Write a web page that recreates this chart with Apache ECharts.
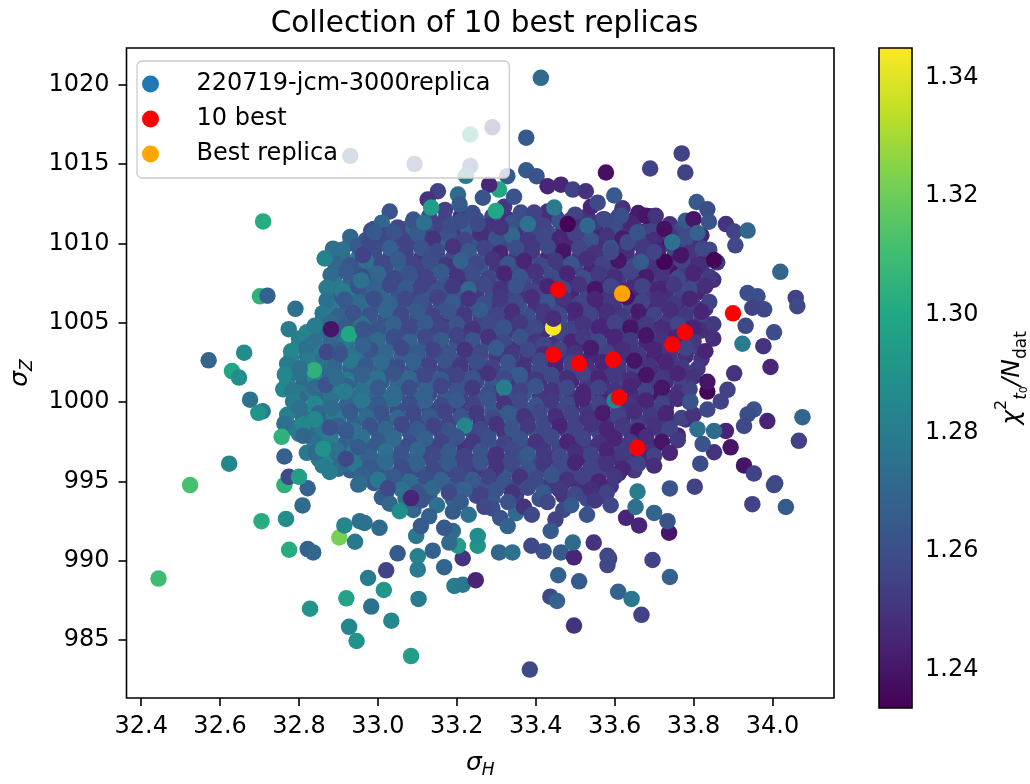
<!DOCTYPE html>
<html><head><meta charset="utf-8">
<script src="https://cdn.jsdelivr.net/npm/echarts@6.0.0/dist/echarts.min.js"></script>
<style>html,body{margin:0;padding:0;background:#fff}#c{width:1030px;height:784px}</style>
</head><body><div id="c"></div>
<script>
const chartTitle = 'Collection of 10 best replicas';
const seriesNames = ['220719-jcm-3000replica', '10 best', 'Best replica'];
const xTicks = [32.4, 32.6, 32.8, 33.0, 33.2, 33.4, 33.6, 33.8, 34.0];
const yTicks = [985, 990, 995, 1000, 1005, 1010, 1015, 1020];
const cbTicks = [1.24, 1.26, 1.28, 1.30, 1.32, 1.34];
const xRange = [32.3628, 34.156];
const yRange = [981.36, 1022.30];
const chi2Range = [1.2335, 1.345];

// [sigma_H, sigma_Z, chi2/Ndat] — dense core, lower layer
const replicasUnder = [
[33.09,1011.5,1.27],[33.13,1011.7,1.256],[33.17,1011.5,1.262],[33.21,1011.7,1.25],[33.25,1011.5,1.265],[33.29,1011.7,1.258],[33.33,1011.5,1.248],[33.37,1011.7,1.262],[33.41,1011.5,1.255],[33.45,1011.7,1.245],[33.49,1011.5,1.258],[33.53,1011.7,1.25],[33.57,1011.5,1.242],[33.61,1011.7,1.255],[33.65,1011.5,1.25],[33.69,1011.7,1.245],
[32.99,1010.9,1.262],[33.03,1010.7,1.258],[33.07,1010.9,1.27],[33.11,1010.7,1.255],[33.15,1010.9,1.262],[33.19,1010.7,1.252],[33.23,1010.9,1.268],[33.27,1010.7,1.256],[33.31,1010.9,1.262],[33.35,1010.7,1.25],[33.39,1010.9,1.258],[33.43,1010.7,1.262],[33.47,1010.9,1.248],[33.51,1010.7,1.255],[33.55,1010.9,1.245],[33.59,1010.7,1.258],[33.63,1010.9,1.25],[33.67,1010.7,1.24],[33.71,1010.9,1.255],[33.75,1010.7,1.248],[33.79,1010.9,1.252],
[32.93,1010.0,1.272],[32.97,1009.9,1.265],[33.01,1010.1,1.26],[33.05,1009.9,1.268],[33.09,1010.1,1.256],[33.13,1009.9,1.262],[33.17,1010.1,1.27],[33.21,1009.9,1.255],[33.25,1010.1,1.262],[33.29,1009.9,1.25],[33.33,1010.1,1.258],[33.37,1009.9,1.265],[33.41,1010.1,1.252],[33.45,1009.9,1.258],[33.49,1010.1,1.245],[33.53,1009.9,1.255],[33.57,1010.1,1.248],[33.61,1009.9,1.258],[33.65,1010.1,1.245],[33.69,1009.9,1.252],[33.73,1010.1,1.24],[33.77,1009.9,1.255],[33.81,1010.1,1.248],
[32.91,1009.2,1.27],[32.95,1009.1,1.278],[32.99,1009.3,1.262],[33.03,1009.1,1.258],[33.07,1009.3,1.265],[33.11,1009.1,1.252],[33.15,1009.3,1.262],[33.19,1009.1,1.258],[33.23,1009.3,1.25],[33.27,1009.1,1.265],[33.31,1009.3,1.256],[33.35,1009.1,1.25],[33.39,1009.3,1.262],[33.43,1009.1,1.248],[33.47,1009.3,1.256],[33.51,1009.1,1.25],[33.55,1009.3,1.258],[33.59,1009.1,1.245],[33.63,1009.3,1.252],[33.67,1009.1,1.248],[33.71,1009.3,1.255],[33.75,1009.1,1.242],[33.79,1009.3,1.252],[33.83,1009.1,1.245],
[32.90,1008.4,1.275],[32.94,1008.5,1.265],[32.98,1008.3,1.27],[33.02,1008.5,1.26],[33.06,1008.3,1.268],[33.10,1008.5,1.256],[33.14,1008.3,1.262],[33.18,1008.5,1.25],[33.22,1008.3,1.258],[33.26,1008.5,1.265],[33.30,1008.3,1.252],[33.34,1008.5,1.258],[33.38,1008.3,1.248],[33.42,1008.5,1.262],[33.46,1008.3,1.25],[33.50,1008.5,1.255],[33.54,1008.3,1.245],[33.58,1008.5,1.252],[33.62,1008.3,1.256],[33.66,1008.5,1.245],[33.70,1008.3,1.25],[33.74,1008.5,1.24],[33.78,1008.3,1.252],[33.82,1008.5,1.248],
[32.89,1007.6,1.278],[32.93,1007.5,1.268],[32.97,1007.7,1.265],[33.01,1007.5,1.272],[33.05,1007.7,1.26],[33.09,1007.5,1.266],[33.13,1007.7,1.255],[33.17,1007.5,1.262],[33.21,1007.7,1.252],[33.25,1007.5,1.26],[33.29,1007.7,1.265],[33.33,1007.5,1.25],[33.37,1007.7,1.258],[33.41,1007.5,1.252],[33.45,1007.7,1.26],[33.49,1007.5,1.248],[33.53,1007.7,1.255],[33.57,1007.5,1.245],[33.61,1007.7,1.252],[33.65,1007.5,1.248],[33.69,1007.7,1.255],[33.73,1007.5,1.245],[33.77,1007.7,1.25],[33.81,1007.5,1.255],[33.85,1007.7,1.248],
[32.89,1006.8,1.272],[32.93,1006.9,1.28],[32.97,1006.7,1.265],[33.01,1006.9,1.27],[33.05,1006.7,1.262],[33.09,1006.9,1.256],[33.13,1006.7,1.265],[33.17,1006.9,1.258],[33.21,1006.7,1.262],[33.25,1006.9,1.252],[33.29,1006.7,1.26],[33.33,1006.9,1.255],[33.37,1006.7,1.25],[33.41,1006.9,1.258],[33.45,1006.7,1.252],[33.49,1006.9,1.245],[33.53,1006.7,1.255],[33.57,1006.9,1.25],[33.61,1006.7,1.258],[33.65,1006.9,1.245],[33.69,1006.7,1.252],[33.73,1006.9,1.248],[33.77,1006.7,1.255],[33.81,1006.9,1.245],
[32.88,1006.0,1.28],[32.92,1006.1,1.27],[32.96,1005.9,1.275],[33.00,1006.1,1.265],[33.04,1005.9,1.26],[33.08,1006.1,1.268],[33.12,1005.9,1.258],[33.16,1006.1,1.262],[33.20,1005.9,1.255],[33.24,1006.1,1.265],[33.28,1005.9,1.25],[33.32,1006.1,1.258],[33.36,1005.9,1.262],[33.40,1006.1,1.25],[33.44,1005.9,1.256],[33.48,1006.1,1.248],[33.52,1005.9,1.255],[33.56,1006.1,1.245],[33.60,1005.9,1.25],[33.64,1006.1,1.256],[33.68,1005.9,1.245],[33.72,1006.1,1.252],[33.76,1005.9,1.248],[33.80,1006.1,1.255],[33.83,1005.9,1.25],
[32.86,1005.2,1.275],[32.90,1005.1,1.282],[32.94,1005.3,1.268],[32.98,1005.1,1.272],[33.02,1005.3,1.262],[33.06,1005.1,1.268],[33.10,1005.3,1.256],[33.14,1005.1,1.262],[33.18,1005.3,1.252],[33.22,1005.1,1.26],[33.26,1005.3,1.255],[33.30,1005.1,1.262],[33.34,1005.3,1.25],[33.38,1005.1,1.258],[33.42,1005.3,1.252],[33.46,1005.1,1.26],[33.50,1005.3,1.248],[33.54,1005.1,1.255],[33.58,1005.3,1.245],[33.62,1005.1,1.252],[33.66,1005.3,1.248],[33.70,1005.1,1.242],[33.74,1005.3,1.252],[33.78,1005.1,1.245],[33.82,1005.3,1.255],
[32.82,1004.4,1.285],[32.86,1004.5,1.275],[32.90,1004.3,1.27],[32.94,1004.5,1.278],[32.98,1004.3,1.265],[33.02,1004.5,1.27],[33.06,1004.3,1.26],[33.10,1004.5,1.266],[33.14,1004.3,1.256],[33.18,1004.5,1.262],[33.22,1004.3,1.25],[33.26,1004.5,1.258],[33.30,1004.3,1.262],[33.34,1004.5,1.252],[33.38,1004.3,1.258],[33.42,1004.5,1.248],[33.46,1004.3,1.255],[33.50,1004.5,1.25],[33.54,1004.3,1.258],[33.58,1004.5,1.245],[33.62,1004.3,1.252],[33.66,1004.5,1.248],[33.70,1004.3,1.255],[33.74,1004.5,1.245],[33.78,1004.3,1.25],[33.82,1004.5,1.248],
[32.80,1003.6,1.28],[32.84,1003.5,1.288],[32.88,1003.7,1.272],[32.92,1003.5,1.268],[32.96,1003.7,1.275],[33.00,1003.5,1.262],[33.04,1003.7,1.268],[33.08,1003.5,1.258],[33.12,1003.7,1.265],[33.16,1003.5,1.255],[33.20,1003.7,1.262],[33.24,1003.5,1.252],[33.28,1003.7,1.26],[33.32,1003.5,1.256],[33.36,1003.7,1.25],[33.40,1003.5,1.262],[33.44,1003.6,1.25],[33.48,1003.5,1.256],[33.52,1003.7,1.245],[33.56,1003.5,1.252],[33.60,1003.7,1.248],[33.64,1003.5,1.255],[33.68,1003.7,1.245],[33.72,1003.5,1.252],[33.76,1003.7,1.248],[33.80,1003.5,1.255],
[32.78,1002.8,1.282],[32.82,1002.9,1.275],[32.86,1002.7,1.285],[32.90,1002.9,1.27],[32.94,1002.7,1.265],[32.98,1002.9,1.272],[33.02,1002.7,1.262],[33.06,1002.9,1.268],[33.10,1002.7,1.256],[33.14,1002.9,1.262],[33.18,1002.7,1.252],[33.22,1002.9,1.26],[33.26,1002.7,1.265],[33.30,1002.9,1.252],[33.34,1002.7,1.258],[33.38,1002.9,1.25],[33.42,1002.7,1.256],[33.46,1002.9,1.248],[33.50,1002.7,1.255],[33.54,1002.9,1.245],[33.58,1002.7,1.252],[33.62,1002.9,1.248],[33.66,1002.7,1.255],[33.70,1002.9,1.242],[33.74,1002.7,1.252],[33.78,1002.9,1.248],[33.82,1002.7,1.25],
[32.81,1001.9,1.285],[32.85,1002.1,1.272],[32.89,1001.9,1.28],[32.93,1002.1,1.268],[32.97,1001.9,1.275],[33.01,1002.1,1.265],[33.05,1001.9,1.27],[33.09,1002.1,1.258],[33.13,1001.9,1.265],[33.17,1002.1,1.255],[33.21,1001.9,1.262],[33.25,1002.1,1.25],[33.29,1001.9,1.258],[33.33,1002.1,1.265],[33.37,1001.9,1.252],[33.41,1002.1,1.258],[33.45,1001.9,1.25],[33.49,1002.1,1.255],[33.53,1001.9,1.245],[33.57,1002.1,1.252],[33.61,1001.9,1.248],[33.65,1002.1,1.255],[33.69,1001.9,1.245],[33.73,1002.1,1.25],[33.77,1001.9,1.248],[33.81,1002.1,1.252],
[32.77,1001.2,1.28],[32.81,1001.1,1.272],[32.85,1001.3,1.282],[32.89,1001.1,1.275],[32.93,1001.3,1.27],[32.97,1001.1,1.278],[33.01,1001.3,1.265],[33.05,1001.1,1.27],[33.09,1001.3,1.262],[33.13,1001.1,1.268],[33.17,1001.3,1.255],[33.21,1001.1,1.262],[33.25,1001.3,1.258],[33.29,1001.1,1.265],[33.33,1001.3,1.252],[33.37,1001.1,1.258],[33.41,1001.3,1.25],[33.45,1001.1,1.256],[33.49,1001.3,1.245],[33.53,1001.1,1.252],[33.57,1001.3,1.248],[33.61,1001.1,1.255],[33.65,1001.3,1.245],[33.69,1001.1,1.252],[33.73,1001.3,1.248],[33.77,1001.1,1.255],
[32.81,1000.5,1.278],[32.85,1000.3,1.27],[32.89,1000.5,1.282],[32.93,1000.3,1.272],[32.97,1000.5,1.268],[33.01,1000.3,1.275],[33.05,1000.5,1.262],[33.09,1000.3,1.27],[33.13,1000.5,1.258],[33.17,1000.3,1.265],[33.21,1000.5,1.255],[33.25,1000.3,1.262],[33.29,1000.5,1.252],[33.33,1000.3,1.26],[33.37,1000.5,1.265],[33.41,1000.3,1.252],[33.45,1000.5,1.258],[33.49,1000.3,1.248],[33.53,1000.5,1.255],[33.57,1000.3,1.245],[33.61,1000.5,1.252],[33.65,1000.3,1.248],[33.69,1000.5,1.24],[33.73,1000.3,1.252],[33.77,1000.5,1.245],
[32.81,999.5,1.288],[32.85,999.7,1.275],[32.89,999.5,1.27],[32.93,999.7,1.278],[32.97,999.5,1.265],[33.01,999.7,1.272],[33.05,999.5,1.26],[33.09,999.7,1.268],[33.13,999.5,1.256],[33.17,999.7,1.262],[33.21,999.5,1.252],[33.25,999.7,1.26],[33.29,999.5,1.265],[33.33,999.7,1.255],[33.37,999.5,1.262],[33.41,999.7,1.25],[33.45,999.5,1.256],[33.49,999.7,1.245],[33.53,999.5,1.252],[33.57,999.7,1.248],[33.61,999.5,1.255],[33.65,999.7,1.245],[33.69,999.5,1.252],[33.73,999.7,1.248],
[32.82,998.9,1.282],[32.86,998.7,1.27],[32.90,998.9,1.278],[32.94,998.7,1.268],[32.98,998.9,1.275],[33.02,998.7,1.262],[33.06,998.9,1.27],[33.10,998.7,1.258],[33.14,998.9,1.265],[33.18,998.7,1.255],[33.22,998.9,1.262],[33.26,998.7,1.25],[33.30,998.9,1.258],[33.34,998.7,1.265],[33.38,998.9,1.252],[33.42,998.7,1.258],[33.46,998.9,1.25],[33.50,998.7,1.255],[33.54,998.9,1.245],[33.58,998.7,1.252],[33.62,998.9,1.248],[33.66,998.7,1.255],[33.70,998.9,1.245],[33.74,998.7,1.25],[33.78,998.9,1.248],
[32.80,998.0,1.28],[32.84,998.1,1.272],[32.88,997.9,1.285],[32.92,998.1,1.27],[32.96,997.9,1.278],[33.00,998.1,1.265],[33.04,997.9,1.27],[33.08,998.1,1.262],[33.12,997.9,1.268],[33.16,998.1,1.256],[33.20,997.9,1.262],[33.24,998.1,1.255],[33.28,997.9,1.262],[33.32,998.1,1.25],[33.36,997.9,1.258],[33.40,998.1,1.265],[33.44,997.9,1.252],[33.48,998.1,1.258],[33.52,997.9,1.248],[33.56,998.1,1.255],[33.60,997.9,1.245],[33.64,998.1,1.252],[33.68,997.9,1.248],[33.72,998.1,1.255],[33.76,997.9,1.245],
[32.86,997.3,1.275],[32.90,997.1,1.27],[32.94,997.3,1.278],[32.98,997.1,1.265],[33.02,997.3,1.27],[33.06,997.1,1.262],[33.10,997.3,1.268],[33.14,997.1,1.256],[33.18,997.3,1.262],[33.22,997.1,1.25],[33.26,997.3,1.258],[33.30,997.1,1.265],[33.34,997.3,1.252],[33.38,997.1,1.258],[33.42,997.3,1.25],[33.46,997.1,1.256],[33.50,997.3,1.245],[33.54,997.1,1.252],[33.58,997.3,1.248],[33.62,997.1,1.255],[33.66,997.3,1.245],[33.70,997.1,1.25],
[32.85,996.4,1.278],[32.89,996.5,1.285],[32.93,996.3,1.272],[32.97,996.5,1.268],[33.01,996.3,1.275],[33.05,996.5,1.262],[33.09,996.3,1.27],[33.13,996.5,1.258],[33.17,996.3,1.265],[33.21,996.5,1.255],[33.25,996.3,1.262],[33.29,996.5,1.25],[33.33,996.3,1.258],[33.37,996.5,1.262],[33.41,996.3,1.255],[33.45,996.5,1.25],[33.49,996.3,1.258],[33.53,996.5,1.245],[33.57,996.3,1.252],[33.61,996.5,1.248],[33.65,996.3,1.255],[33.69,996.5,1.245],
[32.93,995.7,1.268],[32.97,995.5,1.278],[33.01,995.7,1.265],[33.05,995.5,1.27],[33.09,995.7,1.26],[33.13,995.5,1.268],[33.17,995.7,1.256],[33.21,995.5,1.262],[33.25,995.7,1.252],[33.29,995.5,1.26],[33.33,995.7,1.265],[33.37,995.5,1.255],[33.41,995.7,1.26],[33.45,995.5,1.25],[33.49,995.7,1.256],[33.53,995.5,1.248],[33.57,995.7,1.255],[33.61,995.5,1.245],[33.65,995.7,1.252],
[32.95,994.8,1.27],[32.99,994.9,1.265],[33.03,994.7,1.275],[33.07,994.9,1.262],[33.11,994.7,1.27],[33.15,994.9,1.258],[33.19,994.7,1.265],[33.23,994.9,1.255],[33.27,994.7,1.262],[33.31,994.9,1.25],[33.35,994.7,1.258],[33.39,994.9,1.265],[33.43,994.7,1.252],[33.47,994.9,1.258],[33.51,994.7,1.248],[33.55,994.9,1.255],[33.59,994.7,1.25],
[33.01,994.0,1.268],[33.07,993.9,1.275],[33.13,994.1,1.262],[33.19,993.9,1.27],[33.25,994.1,1.258],[33.29,993.9,1.265],[33.35,994.1,1.255],[33.41,993.9,1.262],[33.47,994.1,1.25],[33.53,993.9,1.258],[33.57,994.1,1.252],
[33.09,993.2,1.27],[33.19,993.1,1.265],[33.29,993.3,1.26],[33.35,993.0,1.272],[33.47,993.2,1.258]
];

// dense core, upper layer
const replicasCore = [
[33.03,1012.0,1.262],[33.17,1012.1,1.255],[33.24,1011.9,1.26],[33.32,1012.3,1.252],[33.43,1012.0,1.248],[33.50,1011.8,1.255],[33.54,1012.3,1.245],[33.62,1012.2,1.25],[33.66,1011.9,1.242],
[33.01,1011.3,1.27],[33.05,1011.0,1.258],[33.09,1011.4,1.262],[33.16,1011.2,1.255],[33.21,1011.4,1.26],[33.28,1011.1,1.25],[33.34,1011.3,1.262],[33.42,1011.1,1.256],[33.46,1011.4,1.262],[33.51,1011.0,1.248],[33.55,1011.3,1.252],[33.60,1011.1,1.26],[33.64,1011.3,1.245],[33.69,1011.0,1.255],[33.74,1011.2,1.25],[33.77,1010.9,1.258],
[32.93,1010.4,1.27],[32.97,1010.2,1.262],[33.02,1010.5,1.258],[33.06,1010.3,1.255],[33.10,1010.6,1.265],[33.14,1010.3,1.25],[33.18,1010.5,1.262],[33.22,1010.2,1.256],[33.26,1010.6,1.248],[33.30,1010.3,1.262],[33.34,1010.5,1.27],[33.38,1010.2,1.252],[33.42,1010.5,1.258],[33.46,1010.3,1.245],[33.50,1010.6,1.255],[33.54,1010.2,1.262],[33.58,1010.5,1.25],[33.62,1010.3,1.242],[33.66,1010.5,1.256],[33.70,1010.2,1.248],[33.74,1010.5,1.252],[33.78,1010.3,1.26],[33.82,1010.5,1.245],
[32.91,1009.6,1.275],[32.95,1009.8,1.265],[32.99,1009.5,1.26],[33.03,1009.7,1.268],[33.07,1009.4,1.255],[33.11,1009.7,1.262],[33.15,1009.5,1.258],[33.19,1009.8,1.25],[33.23,1009.5,1.265],[33.27,1009.7,1.255],[33.31,1009.4,1.245],[33.35,1009.7,1.26],[33.39,1009.5,1.252],[33.43,1009.8,1.258],[33.47,1009.5,1.24],[33.51,1009.7,1.256],[33.55,1009.4,1.25],[33.59,1009.7,1.262],[33.63,1009.5,1.248],[33.67,1009.8,1.252],[33.71,1009.5,1.245],[33.75,1009.7,1.256],[33.79,1009.4,1.25],[33.84,1009.6,1.258],
[32.89,1008.8,1.27],[32.93,1008.6,1.262],[32.97,1008.9,1.275],[33.01,1008.7,1.258],[33.05,1009.0,1.265],[33.09,1008.7,1.255],[33.13,1008.9,1.26],[33.17,1008.6,1.252],[33.21,1008.9,1.268],[33.25,1008.7,1.258],[33.29,1009.0,1.25],[33.33,1008.7,1.262],[33.37,1008.9,1.245],[33.41,1008.6,1.258],[33.45,1008.9,1.252],[33.49,1008.7,1.262],[33.53,1009.0,1.248],[33.57,1008.7,1.255],[33.61,1008.9,1.24],[33.65,1008.6,1.258],[33.69,1008.9,1.25],[33.73,1008.7,1.245],[33.77,1008.9,1.255],[33.81,1008.6,1.248],[33.86,1008.8,1.252],
[32.88,1008.0,1.272],[32.92,1008.2,1.265],[32.96,1007.9,1.26],[33.00,1008.1,1.27],[33.04,1007.8,1.258],[33.08,1008.1,1.262],[33.12,1007.9,1.255],[33.16,1008.2,1.265],[33.20,1007.9,1.25],[33.24,1008.1,1.26],[33.28,1007.8,1.256],[33.32,1008.1,1.245],[33.36,1007.9,1.262],[33.40,1008.2,1.25],[33.44,1007.9,1.258],[33.48,1008.1,1.245],[33.52,1007.8,1.26],[33.56,1008.1,1.252],[33.60,1007.9,1.248],[33.64,1008.2,1.256],[33.68,1007.9,1.242],[33.72,1008.1,1.25],[33.76,1007.8,1.258],[33.80,1008.1,1.245],[33.84,1007.9,1.252],
[32.87,1007.2,1.28],[32.91,1007.0,1.27],[32.95,1007.3,1.262],[32.99,1007.1,1.268],[33.03,1007.4,1.258],[33.07,1007.1,1.265],[33.11,1007.3,1.255],[33.15,1007.0,1.262],[33.19,1007.3,1.252],[33.23,1007.1,1.27],[33.27,1007.4,1.258],[33.31,1007.1,1.25],[33.35,1007.3,1.262],[33.39,1007.0,1.255],[33.43,1007.3,1.245],[33.47,1007.1,1.258],[33.51,1007.4,1.25],[33.55,1007.1,1.24],[33.59,1007.3,1.256],[33.63,1007.0,1.248],[33.67,1007.3,1.255],[33.71,1007.1,1.245],[33.75,1007.4,1.252],[33.79,1007.1,1.258],[33.83,1007.3,1.248],
[32.87,1006.4,1.275],[32.91,1006.6,1.265],[32.95,1006.3,1.272],[32.99,1006.5,1.26],[33.03,1006.2,1.268],[33.07,1006.5,1.258],[33.11,1006.3,1.262],[33.15,1006.6,1.255],[33.19,1006.3,1.265],[33.23,1006.5,1.25],[33.27,1006.2,1.26],[33.31,1006.5,1.252],[33.35,1006.3,1.258],[33.39,1006.6,1.248],[33.43,1006.3,1.262],[33.47,1006.5,1.25],[33.51,1006.2,1.256],[33.55,1006.5,1.245],[33.59,1006.3,1.252],[33.63,1006.6,1.24],[33.67,1006.3,1.256],[33.71,1006.5,1.248],[33.75,1006.2,1.252],[33.79,1006.5,1.245],[33.84,1006.3,1.255],
[32.86,1005.6,1.278],[32.90,1005.4,1.268],[32.94,1005.7,1.275],[32.98,1005.5,1.262],[33.02,1005.8,1.27],[33.06,1005.5,1.258],[33.10,1005.7,1.265],[33.14,1005.4,1.255],[33.18,1005.7,1.262],[33.22,1005.5,1.252],[33.26,1005.8,1.265],[33.30,1005.5,1.256],[33.34,1005.7,1.248],[33.38,1005.4,1.26],[33.42,1005.7,1.252],[33.46,1005.5,1.258],[33.50,1005.8,1.245],[33.54,1005.5,1.255],[33.58,1005.7,1.248],[33.62,1005.4,1.252],[33.66,1005.7,1.242],[33.70,1005.5,1.255],[33.74,1005.8,1.248],[33.78,1005.5,1.252],[33.82,1005.7,1.245],
[33.444,1004.7,1.3449],
[32.84,1004.8,1.28],[32.88,1005.0,1.272],[32.92,1004.7,1.265],[32.96,1004.9,1.275],[33.00,1004.6,1.262],[33.04,1004.9,1.268],[33.08,1004.7,1.258],[33.12,1005.0,1.265],[33.16,1004.7,1.255],[33.20,1004.9,1.262],[33.24,1004.6,1.25],[33.28,1004.9,1.258],[33.32,1004.7,1.262],[33.36,1005.0,1.252],[33.40,1004.7,1.258],[33.445,1005.25,1.248],[33.49,1004.6,1.255],[33.52,1004.9,1.25],[33.56,1004.7,1.245],[33.60,1005.0,1.255],[33.64,1004.7,1.24],[33.68,1004.9,1.252],[33.72,1004.6,1.248],[33.76,1004.9,1.256],[33.80,1004.7,1.245],[33.85,1004.9,1.252],
[32.80,1004.0,1.282],[32.84,1003.8,1.275],[32.88,1004.1,1.27],[32.92,1003.9,1.278],[32.96,1004.2,1.265],[33.00,1003.9,1.272],[33.04,1004.1,1.26],[33.08,1003.8,1.268],[33.12,1004.1,1.258],[33.16,1003.9,1.265],[33.20,1004.2,1.255],[33.24,1003.9,1.262],[33.28,1004.1,1.25],[33.32,1003.8,1.258],[33.36,1004.1,1.262],[33.40,1003.8,1.252],[33.42,1003.6,1.256],[33.49,1003.8,1.245],[33.52,1004.1,1.252],[33.56,1003.8,1.258],[33.60,1004.1,1.245],[33.64,1003.9,1.252],[33.68,1004.2,1.24],[33.72,1003.9,1.25],[33.76,1004.1,1.245],[33.80,1003.8,1.252],[33.85,1004.0,1.248],
[32.78,1003.2,1.285],[32.82,1003.4,1.275],[32.86,1003.1,1.28],[32.90,1003.3,1.268],[32.94,1003.0,1.275],[32.98,1003.3,1.262],[33.02,1003.1,1.27],[33.06,1003.4,1.258],[33.10,1003.1,1.265],[33.14,1003.3,1.255],[33.18,1003.0,1.262],[33.22,1003.3,1.25],[33.26,1003.1,1.258],[33.30,1003.4,1.265],[33.34,1003.1,1.252],[33.38,1003.3,1.258],[33.42,1003.0,1.248],[33.46,1003.3,1.255],[33.50,1003.1,1.25],[33.54,1003.4,1.242],[33.58,1003.1,1.255],[33.62,1003.3,1.248],[33.66,1003.0,1.252],[33.70,1003.3,1.245],[33.74,1003.1,1.25],[33.78,1003.4,1.255],[33.83,1003.2,1.245],
[32.77,1002.4,1.28],[32.81,1002.2,1.29],[32.85,1002.5,1.275],[32.89,1002.3,1.27],[32.93,1002.6,1.278],[32.97,1002.3,1.265],[33.01,1002.5,1.272],[33.05,1002.2,1.26],[33.09,1002.5,1.268],[33.13,1002.3,1.255],[33.17,1002.6,1.262],[33.21,1002.3,1.252],[33.25,1002.5,1.26],[33.29,1002.2,1.255],[33.33,1002.5,1.262],[33.37,1002.3,1.25],[33.41,1002.6,1.258],[33.45,1002.3,1.245],[33.49,1002.5,1.255],[33.53,1002.2,1.25],[33.57,1002.5,1.245],[33.61,1002.3,1.252],[33.65,1002.6,1.24],[33.69,1002.3,1.25],[33.73,1002.5,1.245],[33.77,1002.2,1.252],
[32.80,1001.8,1.275],[32.84,1001.5,1.285],[32.88,1001.7,1.272],[32.92,1001.4,1.28],[32.96,1001.7,1.268],[33.00,1001.5,1.275],[33.04,1001.8,1.262],[33.08,1001.5,1.27],[33.12,1001.7,1.258],[33.16,1001.4,1.265],[33.20,1001.7,1.255],[33.24,1001.5,1.262],[33.28,1001.8,1.25],[33.32,1001.5,1.258],[33.36,1001.7,1.265],[33.40,1001.4,1.252],[33.44,1001.7,1.258],[33.48,1001.5,1.248],[33.52,1001.8,1.255],[33.56,1001.5,1.245],[33.60,1001.7,1.252],[33.64,1001.4,1.248],[33.68,1001.7,1.24],[33.72,1001.5,1.252],[33.76,1001.8,1.245],[33.80,1001.6,1.25],
[32.76,1000.8,1.285],[32.80,1000.6,1.278],[32.84,1000.9,1.272],[32.88,1000.7,1.28],[32.92,1001.0,1.268],[32.96,1000.7,1.275],[33.00,1000.9,1.265],[33.04,1000.6,1.272],[33.08,1000.9,1.26],[33.12,1000.7,1.268],[33.16,1001.0,1.256],[33.20,1000.7,1.262],[33.24,1000.9,1.252],[33.28,1000.6,1.26],[33.32,1000.9,1.28],[33.36,1000.7,1.255],[33.40,1001.0,1.262],[33.44,1000.7,1.25],[33.48,1000.9,1.258],[33.52,1000.6,1.245],[33.56,1000.9,1.255],[33.60,1000.7,1.25],[33.64,1001.0,1.245],[33.68,1000.7,1.255],[33.72,1000.9,1.24],[33.76,1000.6,1.25],[33.79,1000.8,1.255],
[32.80,1000.2,1.272],[32.84,999.9,1.285],[32.88,1000.1,1.275],[32.92,999.8,1.27],[32.96,1000.1,1.278],[33.00,999.9,1.265],[33.04,1000.2,1.272],[33.08,999.9,1.26],[33.12,1000.1,1.268],[33.16,999.8,1.258],[33.20,1000.1,1.265],[33.24,999.9,1.255],[33.28,1000.2,1.262],[33.32,999.9,1.25],[33.36,1000.1,1.258],[33.40,999.8,1.262],[33.44,1000.1,1.252],[33.48,999.9,1.258],[33.52,1000.2,1.245],[33.56,999.9,1.255],[33.60,1000.1,1.285],[33.64,999.8,1.25],[33.68,1000.1,1.245],[33.72,999.9,1.255],[33.76,1000.2,1.248],[33.79,1000.0,1.252],
[32.77,999.2,1.282],[32.81,999.0,1.275],[32.85,999.3,1.27],[32.89,999.1,1.28],[32.93,999.4,1.265],[32.97,999.1,1.272],[33.01,999.3,1.262],[33.05,999.0,1.27],[33.09,999.3,1.258],[33.13,999.1,1.265],[33.17,999.4,1.255],[33.21,999.1,1.262],[33.25,999.3,1.252],[33.29,999.0,1.258],[33.33,999.3,1.265],[33.37,999.1,1.25],[33.41,999.4,1.258],[33.45,999.1,1.248],[33.49,999.3,1.255],[33.53,999.0,1.25],[33.57,999.3,1.242],[33.61,999.1,1.255],[33.65,999.4,1.248],[33.69,999.1,1.252],[33.73,999.3,1.245],[33.77,999.0,1.255],[33.80,999.2,1.25],
[32.78,998.4,1.28],[32.82,998.6,1.272],[32.86,998.3,1.278],[32.90,998.5,1.268],[32.94,998.2,1.275],[32.98,998.5,1.262],[33.02,998.3,1.27],[33.06,998.6,1.258],[33.10,998.3,1.265],[33.14,998.5,1.255],[33.18,998.2,1.262],[33.22,998.5,1.285],[33.26,998.3,1.258],[33.30,998.6,1.25],[33.34,998.3,1.262],[33.38,998.5,1.252],[33.42,998.2,1.258],[33.46,998.5,1.245],[33.50,998.3,1.255],[33.54,998.6,1.25],[33.58,998.3,1.245],[33.62,998.5,1.252],[33.66,998.2,1.24],[33.70,998.5,1.25],[33.74,998.3,1.255],
[32.84,997.4,1.275],[32.88,997.7,1.28],[32.92,997.5,1.268],[32.96,997.8,1.275],[33.00,997.5,1.265],[33.04,997.7,1.272],[33.08,997.4,1.26],[33.12,997.7,1.268],[33.16,997.5,1.255],[33.20,997.8,1.262],[33.24,997.5,1.252],[33.28,997.7,1.26],[33.32,997.4,1.255],[33.36,997.7,1.262],[33.40,997.5,1.25],[33.44,997.8,1.258],[33.48,997.5,1.245],[33.52,997.7,1.255],[33.56,997.4,1.25],[33.60,997.7,1.245],[33.64,997.5,1.252],[33.68,997.8,1.248],[33.72,997.5,1.24],[33.76,997.6,1.252],
[32.82,996.8,1.278],[32.86,997.0,1.285],[32.90,996.7,1.272],[32.94,996.9,1.28],[32.98,996.6,1.268],[33.02,996.9,1.275],[33.06,996.7,1.262],[33.10,997.0,1.27],[33.14,996.7,1.258],[33.18,996.9,1.265],[33.22,996.6,1.255],[33.26,996.9,1.262],[33.30,996.7,1.25],[33.34,997.0,1.258],[33.38,996.7,1.265],[33.42,996.9,1.252],[33.46,996.6,1.258],[33.50,996.9,1.248],[33.54,996.7,1.255],[33.58,997.0,1.245],[33.62,996.7,1.252],[33.66,996.9,1.248],[33.70,996.6,1.255],[33.74,996.8,1.245],
[32.86,996.0,1.28],[32.90,995.8,1.272],[32.94,996.1,1.278],[32.98,995.9,1.265],[33.02,996.2,1.272],[33.06,995.9,1.26],[33.10,996.1,1.268],[33.14,995.8,1.258],[33.18,996.1,1.265],[33.22,995.9,1.255],[33.26,996.2,1.262],[33.30,995.9,1.25],[33.34,996.1,1.258],[33.38,995.8,1.262],[33.42,996.1,1.252],[33.46,995.9,1.258],[33.50,996.2,1.245],[33.54,995.9,1.255],[33.58,996.1,1.25],[33.62,995.8,1.245],[33.66,996.1,1.255],[33.70,996.0,1.248],
[32.96,995.4,1.268],[33.00,995.1,1.278],[33.04,995.3,1.265],[33.08,995.0,1.272],[33.12,995.3,1.26],[33.16,995.1,1.268],[33.20,995.4,1.258],[33.24,995.1,1.265],[33.28,995.3,1.255],[33.32,995.0,1.262],[33.36,995.3,1.25],[33.40,995.1,1.258],[33.44,995.4,1.262],[33.48,995.1,1.25],[33.52,995.3,1.255],[33.56,995.0,1.245],[33.60,995.3,1.252],
[33.02,994.2,1.265],[33.06,994.5,1.275],[33.10,994.3,1.262],[33.14,994.6,1.27],[33.18,994.3,1.258],[33.22,994.5,1.268],[33.26,994.2,1.255],[33.30,994.5,1.262],[33.34,994.3,1.25],[33.38,994.6,1.258],[33.42,994.3,1.265],[33.46,994.5,1.252],[33.50,994.2,1.258],[33.54,994.5,1.248],[33.58,994.3,1.255],
[33.03,993.6,1.27],[33.11,993.8,1.262],[33.15,993.5,1.275],[33.21,993.7,1.265],[33.27,993.4,1.258],[33.33,993.7,1.262],[33.37,993.4,1.25],[33.43,993.7,1.258],[33.49,993.5,1.265],[33.55,993.8,1.252],[33.59,993.5,1.258],
[33.13,992.8,1.268],[33.23,992.9,1.275],[33.31,992.7,1.262],[33.39,992.9,1.258],[33.45,992.6,1.255],[33.53,992.9,1.262]
];

// scattered outer points
const replicasOuter = [
[32.709,1011.38,1.302],[32.886,1009.66,1.275],[32.865,1009.04,1.283],[32.962,1009.27,1.255],[32.979,1010.07,1.258],[32.983,1010.8,1.26],[32.93,1015.5,1.268],
[33.413,1020.42,1.272],[33.234,1016.85,1.30],[33.29,1017.31,1.245],[33.376,1016.65,1.265],[33.093,1014.99,1.262],[33.234,1014.87,1.262],[33.223,1014.25,1.278],[33.328,1014.23,1.265],[33.376,1014.6,1.265],[33.402,1014.23,1.262],[33.307,1013.38,1.30],[33.299,1012.04,1.30],[33.282,1013.69,1.245],[33.345,1012.93,1.262],[33.152,1013.28,1.255],[33.126,1012.76,1.25],[33.135,1012.25,1.295],[33.203,1013.07,1.272],[33.207,1012.45,1.265],[33.266,1012.87,1.262],[33.43,1013.59,1.245],[33.464,1013.69,1.245],[33.494,1013.38,1.255],[33.527,1013.28,1.25],[33.578,1014.46,1.238],[33.557,1012.56,1.258],[33.447,1012.25,1.28],[33.362,1011.94,1.26],[33.396,1011.94,1.255],[33.117,1011.31,1.275],[33.041,1010.69,1.262],[32.991,1010.69,1.265],[33.185,1011.13,1.26],[33.253,1011.21,1.258],[33.311,1011.0,1.25],[33.38,1011.21,1.275],[33.481,1011.21,1.235],[33.531,1011.11,1.27],[33.574,1011.52,1.258],
[33.770,1015.66,1.255],[33.779,1014.46,1.255],[33.69,1014.71,1.255],[33.599,1013.01,1.265],[33.679,1011.73,1.24],[33.704,1011.73,1.25],[33.726,1010.9,1.238],[33.78,1011.42,1.265],[33.8,1011.52,1.24],[33.808,1012.6,1.265],[33.835,1012.14,1.26],[33.839,1011.36,1.262],[33.81,1010.65,1.268],[33.882,1011.21,1.25],[33.903,1010.74,1.255],[33.937,1010.8,1.27],[33.906,1009.87,1.258],[34.02,1008.2,1.27],[33.852,1008.94,1.235],[33.823,1009.66,1.258],[33.726,1008.83,1.235],[33.768,1009.25,1.24],[33.667,1008.83,1.265],[33.633,1010.07,1.258],[33.658,1010.69,1.262],[33.616,1011.73,1.26],[33.746,1010.07,1.275],[33.7,1009.45,1.255],[33.591,1009.45,1.258],
[33.937,1006.87,1.26],[33.962,1006.66,1.26],[34.059,1006.56,1.255],[34.063,1006.04,1.258],[33.979,1005.84,1.258],[33.949,1005.94,1.255],[33.932,1004.8,1.258],[34.004,1004.39,1.26],[33.924,1003.67,1.28],[33.977,1003.52,1.25],[33.995,1002.21,1.245],[33.903,1001.81,1.25],[33.886,1000.77,1.255],[33.835,1000.66,1.235],[33.869,1000.04,1.255],[33.953,999.53,1.262],[33.937,999.22,1.26],[33.987,998.8,1.245],[34.076,999.05,1.27],[34.067,997.56,1.255],[33.928,998.49,1.258],[33.882,998.18,1.245],[33.894,997.15,1.24],[33.852,996.84,1.25],[33.852,998.18,1.272],[33.81,998.29,1.275],[33.823,997.36,1.262],[33.928,996.01,1.24],[33.953,995.5,1.255],[34.007,994.88,1.258],[33.817,996.12,1.26],[33.835,999.53,1.258],[33.792,1000.04,1.262],[33.835,1001.28,1.24],
[33.949,993.57,1.255],[34.034,993.39,1.265],[34.004,994.77,1.258],[33.803,994.67,1.255],[33.74,994.56,1.262],[33.738,991.77,1.24],[33.734,992.5,1.262],[33.7,993.02,1.27],[33.662,992.23,1.245],[33.629,992.71,1.245],[33.658,994.36,1.28],[33.653,993.39,1.275],[33.696,990.05,1.255],[33.74,988.98,1.268],[33.586,990.15,1.255],[33.582,989.73,1.258],[33.609,988.05,1.268],[33.643,987.6,1.278],[33.668,986.6,1.255],
[33.385,983.15,1.258],[33.497,985.92,1.25],[33.437,987.74,1.258],[33.454,987.47,1.268],[33.51,988.71,1.265],[33.457,989.09,1.268],[33.084,984.0,1.295],[33.034,986.23,1.285],[33.103,987.6,1.28],[33.015,988.16,1.292],[33.021,989.4,1.255],[33.05,990.47,1.265],[33.194,988.42,1.28],[33.215,988.5,1.278],[33.248,988.78,1.245],[33.101,989.46,1.28],[33.168,989.6,1.27],[33.101,990.29,1.282],[33.215,990.16,1.25],[33.203,990.95,1.295],[33.253,990.95,1.29],[33.181,991.15,1.272],[33.139,990.64,1.268],[33.097,991.57,1.278],[33.055,993.12,1.288],[33.004,992.08,1.272],[32.966,992.39,1.275],[33.084,993.95,1.245],[33.025,994.57,1.258],[33.307,990.53,1.27],[33.341,990.53,1.275],[33.42,990.6,1.262],[33.389,990.95,1.258],[33.464,990.53,1.265],[33.497,990.22,1.245],[33.547,991.15,1.25],[33.494,991.15,1.272],[33.582,990.32,1.258],[33.438,991.88,1.265],[33.329,992.19,1.268],[33.253,991.57,1.288],[33.19,991.88,1.272],[33.168,992.08,1.265],[33.109,992.19,1.265],
[32.444,988.88,1.31],[32.524,994.77,1.312],[32.705,992.5,1.302],[32.767,992.64,1.288],[32.763,994.77,1.305],[32.809,993.49,1.272],[32.822,994.57,1.268],[32.775,990.7,1.302],[32.822,990.74,1.268],[32.836,990.53,1.27],[32.902,991.47,1.322],[32.915,992.23,1.285],[32.942,991.2,1.278],[32.954,992.5,1.275],[32.828,986.98,1.29],[32.92,987.64,1.298],[32.927,985.84,1.285],[32.946,984.95,1.29],[32.975,988.92,1.28],[32.983,987.12,1.275],
[32.701,1006.66,1.305],[32.72,1006.7,1.268],[32.791,1005.87,1.275],[32.774,1004.59,1.28],[32.881,1004.59,1.24],[32.927,1004.28,1.30],[32.91,1007.03,1.28],[32.916,1006.45,1.265],[32.958,1007.66,1.275],[32.571,1002.63,1.27],[32.661,1003.11,1.288],[32.63,1001.95,1.30],[32.648,1001.54,1.288],[32.676,1000.15,1.275],[32.708,999.42,1.28],[32.697,999.32,1.29],[32.623,996.12,1.285],[32.764,1001.74,1.285],[32.784,1000.71,1.278],[32.785,1000.04,1.28],[32.802,999.63,1.275],[32.763,998.64,1.275],[32.756,997.81,1.305],[32.811,998.6,1.285],[32.84,998.91,1.285],[32.811,997.87,1.27],[32.763,996.57,1.268],[32.774,995.29,1.258],[32.8,995.29,1.295],[32.843,996.84,1.272],[32.878,995.6,1.28],[32.823,1002.63,1.28],[32.838,1002.01,1.305],[32.802,1002.11,1.275],[32.87,1003.15,1.258],[32.904,1003.05,1.262],[32.868,1001.08,1.262],[32.895,1001.5,1.272],[32.883,999.63,1.272],[32.916,1000.66,1.28],[32.878,998.39,1.262],[32.92,998.18,1.265],[32.895,996.94,1.275],[32.919,996.43,1.258],[32.95,997.15,1.265],[32.954,994.88,1.272],[32.937,1005.63,1.262],[32.962,1004.59,1.262],[32.962,1003.56,1.268],[32.861,997.05,1.29]
];

const best10 = [
[33.619,1006.83],[33.457,1007.08],[33.444,1002.98],[33.509,1002.43],[33.596,1002.67],[33.900,1005.59],[33.778,1004.39],[33.746,1003.62],[33.611,1000.29],[33.657,997.11]
];
const bestReplica = [[33.619,1006.83]];

const viridis = ['#440154','#482475','#414487','#355f8d','#2a788e','#21918c','#22a884','#44bf70','#7ad151','#bddf26','#fde725'];
const FONT = 'DejaVu Sans';
const TICK_FS = 24;

const chart = echarts.init(document.getElementById('c'), null, {renderer: 'canvas'});
const plot = {left: 125, top: 48, width: 709, height: 660};
const cb = {left: 879, top: 48, width: 33, height: 660};
const tickStyle = {show: true, inside: false, length: 8, lineStyle: {color: '#000', width: 1.6}};
const nameRich = {
  i: {fontFamily: FONT, fontStyle: 'italic', fontSize: 25, color: '#000', lineHeight: 32, verticalAlign: 'middle'},
  s: {fontFamily: FONT, fontStyle: 'italic', fontSize: 17, color: '#000', lineHeight: 32, verticalAlign: 'bottom'}
};

chart.setOption({
  animation: false,
  backgroundColor: '#fff',
  title: {
    text: chartTitle, left: plot.left + plot.width / 2, top: 4, textAlign: 'center',
    textStyle: {fontFamily: FONT, fontSize: 29.5, fontWeight: 'normal', color: '#000'}
  },
  grid: [
    {left: plot.left, top: plot.top, width: plot.width, height: plot.height, show: true, borderColor: '#000', borderWidth: 1.6, backgroundColor: 'transparent'},
    {left: cb.left, top: cb.top, width: cb.width, height: cb.height, show: false}
  ],
  xAxis: [
    {type: 'value', gridIndex: 0, min: xRange[0], max: xRange[1],
     name: '{i|σ}{s|H}', nameLocation: 'middle', nameGap: 49, nameTextStyle: {rich: nameRich},
     axisLine: {show: false}, splitLine: {show: false},
     axisTick: Object.assign({customValues: xTicks}, tickStyle),
     axisLabel: {customValues: xTicks, formatter: v => v.toFixed(1), fontFamily: FONT, fontSize: TICK_FS, color: '#000', margin: 17}},
    {type: 'value', gridIndex: 1, min: 0, max: 1, show: false}
  ],
  yAxis: [
    {type: 'value', gridIndex: 0, min: yRange[0], max: yRange[1],
     name: '{i|σ}{s|Z}', nameLocation: 'middle', nameGap: 90, nameRotate: 90, nameTextStyle: {rich: nameRich},
     axisLine: {show: false}, splitLine: {show: false},
     axisTick: Object.assign({customValues: yTicks}, tickStyle),
     axisLabel: {customValues: yTicks, formatter: v => String(v), fontFamily: FONT, fontSize: TICK_FS, color: '#000', margin: 17}},
    {type: 'value', gridIndex: 1, min: chi2Range[0], max: chi2Range[1], position: 'right',
     axisLine: {show: false}, splitLine: {show: false},
     axisTick: Object.assign({customValues: cbTicks}, tickStyle),
     axisLabel: {customValues: cbTicks, formatter: v => v.toFixed(2), fontFamily: FONT, fontSize: TICK_FS, color: '#000', margin: 13}}
  ],
  visualMap: {
    type: 'continuous', show: false, seriesIndex: 0, dimension: 2,
    min: chi2Range[0], max: chi2Range[1], inRange: {color: viridis}
  },
  legend: {
    orient: 'vertical', left: 137, top: 61, icon: 'circle',
    itemWidth: 60, itemHeight: 17, itemGap: 11, padding: [11, 19, 12, 5],
    backgroundColor: 'rgba(255,255,255,0.8)', borderColor: '#cccccc', borderWidth: 1.3, borderRadius: 5,
    selectedMode: false,
    formatter: name => '{g|}{t|' + name + '}',
    textStyle: {fontFamily: FONT, fontSize: TICK_FS, color: '#000', lineHeight: 24,
      rich: {g: {width: 11, height: 1}, t: {fontFamily: FONT, fontSize: TICK_FS, color: '#000', lineHeight: 24}}},
    data: [
      {name: seriesNames[0], itemStyle: {color: '#1f77b4'}},
      {name: seriesNames[1], itemStyle: {color: '#ff0000'}},
      {name: seriesNames[2], itemStyle: {color: '#ffa500'}}
    ],
    z: 10
  },
  series: [
    {name: seriesNames[0], type: 'scatter', xAxisIndex: 0, yAxisIndex: 0, symbolSize: 16.5,
     itemStyle: {color: '#1f77b4', opacity: 1}, progressive: 0, large: false,
     data: replicasUnder.concat(replicasCore, replicasOuter), z: 2},
    {name: seriesNames[1], type: 'scatter', xAxisIndex: 0, yAxisIndex: 0, symbolSize: 16.5,
     itemStyle: {color: '#ff0000', opacity: 1}, data: best10, z: 3},
    {name: seriesNames[2], type: 'scatter', xAxisIndex: 0, yAxisIndex: 0, symbolSize: 16.5,
     itemStyle: {color: '#ffa500', opacity: 1}, data: bestReplica, z: 4}
  ],
  graphic: [
    {type: 'rect', shape: {x: cb.left, y: cb.top, width: cb.width, height: cb.height}, z: 5,
     style: {fill: {type: 'linear', x: 0, y: 1, x2: 0, y2: 0,
       colorStops: viridis.map((c, i) => ({offset: i / (viridis.length - 1), color: c}))},
       stroke: '#000', lineWidth: 1.6}},
    {type: 'text', x: 1012, y: cb.top + cb.height / 2, rotation: Math.PI / 2, z: 5,
     style: {text: '{i|χ}{s|2}{b|t}{bb|0}{i|/N}{b2|dat}', align: 'center', verticalAlign: 'middle',
       rich: {
         i: {fontFamily: FONT, fontStyle: 'italic', fontSize: 25, fill: '#000', lineHeight: 36, verticalAlign: 'middle'},
         s: {fontFamily: FONT, fontSize: 16, fill: '#000', lineHeight: 36, verticalAlign: 'top'},
         b: {fontFamily: FONT, fontStyle: 'italic', fontSize: 17, fill: '#000', lineHeight: 36, verticalAlign: 'bottom'},
         bb: {fontFamily: FONT, fontSize: 11, fill: '#000', lineHeight: 32, verticalAlign: 'bottom'},
         b2: {fontFamily: FONT, fontSize: 17, fill: '#000', lineHeight: 36, verticalAlign: 'bottom'}
       }}}
  ]
});
</script>
</body></html>
